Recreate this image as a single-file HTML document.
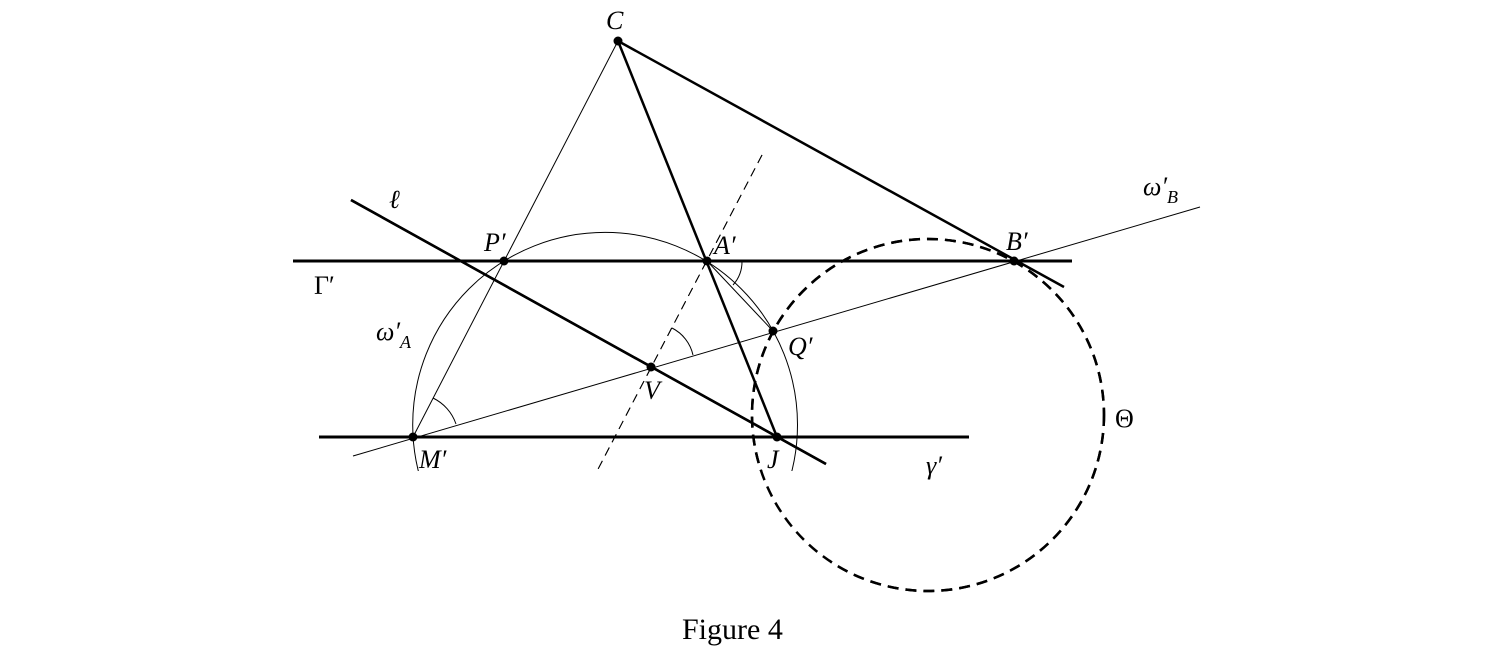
<!DOCTYPE html>
<html><head><style>body{margin:0;background:#fff}svg{display:block}text{font-family:"Liberation Serif",serif;font-style:italic;font-size:26px;fill:#000}</style></head><body>
<svg width="1490" height="650" viewBox="0 0 1490 650" xmlns="http://www.w3.org/2000/svg">
<g fill="none" stroke="#000">
<line x1="293" y1="261" x2="1072" y2="261" stroke-width="3"/>
<line x1="319" y1="437" x2="969" y2="437" stroke-width="3"/>
<line x1="618" y1="41" x2="1064" y2="287" stroke-width="2.5"/>
<line x1="618" y1="41" x2="777" y2="437" stroke-width="2.5"/>
<line x1="618" y1="41" x2="413" y2="437" stroke-width="1"/>
<line x1="351" y1="200" x2="826" y2="464" stroke-width="2.5"/>
<line x1="353" y1="456" x2="1200" y2="207" stroke-width="1"/>
<line x1="762" y1="155" x2="596" y2="473" stroke-width="1" stroke-dasharray="9,6"/>
<line x1="707" y1="261" x2="773" y2="331" stroke-width="1"/>
<circle cx="605.1" cy="424.8" r="192.4" stroke-width="1" stroke-dasharray="0"/>
<circle cx="928" cy="415" r="176" stroke-width="2.5" stroke-dasharray="11,7"/>
<path d="M433,398 A45,45 0 0 1 456,424" stroke-width="1"/>
<path d="M742,261 A35,35 0 0 1 733,285" stroke-width="1"/>
<path d="M672,328 A40,40 0 0 1 693,355" stroke-width="1"/>
</g>
<rect x="380" y="471" width="450" height="180" fill="#fff"/>
<g fill="none" stroke="#000">
<line x1="351" y1="200" x2="826" y2="464" stroke-width="2.5"/>
<line x1="762" y1="155" x2="596" y2="473" stroke-width="1" stroke-dasharray="9,6"/>
<circle cx="928" cy="415" r="176" stroke-width="2.5" stroke-dasharray="11,7"/>
</g>
<g fill="#000">
<circle cx="618" cy="41" r="4.5"/><circle cx="1014" cy="261" r="4.5"/><circle cx="707" cy="261" r="4.5"/><circle cx="504" cy="261" r="4.5"/><circle cx="773" cy="331" r="4.5"/><circle cx="651" cy="367" r="4.5"/><circle cx="413" cy="437" r="4.5"/><circle cx="777" cy="437" r="4.5"/>
</g>
<text x="606" y="29">C</text>
<text x="1006" y="250">B′</text>
<text x="714" y="254">A′</text>
<text x="484" y="251">P′</text>
<text x="788" y="355">Q′</text>
<text x="644" y="399">V</text>
<text x="419" y="468">M′</text>
<text x="767" y="468">J</text>
<text x="389" y="208">ℓ</text>
<text x="314" y="294" style="font-style:normal">Γ′</text>
<text x="376" y="340">ω′<tspan font-size="18" dy="8">A</tspan></text>
<text x="1143" y="195">ω′<tspan font-size="18" dy="8">B</tspan></text>
<text x="926" y="474">γ′</text>
<text x="1115" y="427" style="font-style:normal">Θ</text>
<text x="682" y="639" style="font-style:normal;font-size:30px">Figure 4</text>
</svg>
</body></html>
